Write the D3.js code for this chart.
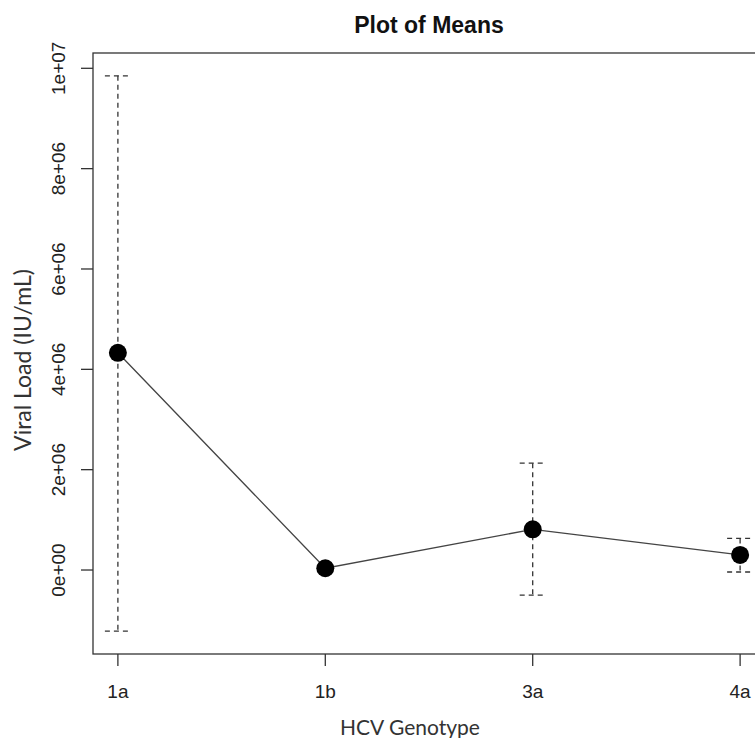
<!DOCTYPE html>
<html>
<head>
<meta charset="utf-8">
<script src="https://cdn.jsdelivr.net/npm/d3@7"></script>
<style>
  body { margin: 0; background: #fff; }
  svg { display: block; }
</style>
</head>
<body>
<script>
let w = 755;
let h = 738;

// group means and confidence limits
var genotypes = ["1a", "1b", "3a", "4a"];
var means = [4.33e6, 0.035e6, 0.81e6, 0.30e6];
var upper = [9.85e6, 0.035e6, 2.13e6, 0.63e6];
var lower = [-1.22e6, 0.035e6, -0.50e6, -0.04e6];
var yTicks = [0, 2e6, 4e6, 6e6, 8e6, 1e7];

let plotLeft = 93, plotRight = 765, plotTop = 53, plotBottom = 654;

var svg = d3.select("body").append("svg").attr("width", w).attr("height", h);

let xScale = d3.scaleLinear()
    .domain([0.88, 4.12])
    .range([plotLeft, plotRight]);

let yScale = d3.scaleLinear()
    .domain([-1.674e6, 10.305e6])
    .range([plotBottom, plotTop]);

// R style exponent labels, e.g. 2e+06
function sci(v) {
    if (v === 0) return "0e+00";
    let e = Math.floor(Math.log10(Math.abs(v)));
    let m = Math.round(v / Math.pow(10, e));
    return m + "e+" + (e < 10 ? "0" + e : e);
}

let ink = "#333";
let tickFont = "Liberation Sans, Arial, sans-serif";

// box
svg.append("rect")
    .attr("x", plotLeft).attr("y", plotTop)
    .attr("width", plotRight - plotLeft).attr("height", plotBottom - plotTop)
    .attr("fill", "none").attr("stroke", ink).attr("stroke-width", 1.3);

// y axis ticks + labels
var yAxis = svg.append("g");
yAxis.selectAll("line")
    .data(yTicks)
    .enter()
    .append("line")
    .attr("x1", plotLeft - 12).attr("x2", plotLeft)
    .attr("y1", d => yScale(d)).attr("y2", d => yScale(d))
    .attr("stroke", ink).attr("stroke-width", 1.3);
yAxis.selectAll("text")
    .data(yTicks)
    .enter()
    .append("text")
    .attr("transform", d => "translate(65," + yScale(d) + ") rotate(-90)")
    .attr("text-anchor", "middle")
    .attr("font-family", tickFont)
    .attr("font-size", 19)
    .attr("fill", "#222")
    .text(d => sci(d));

// x axis ticks + labels
var xAxis = svg.append("g");
xAxis.selectAll("line")
    .data(genotypes)
    .enter()
    .append("line")
    .attr("x1", (d, i) => xScale(i + 1)).attr("x2", (d, i) => xScale(i + 1))
    .attr("y1", plotBottom).attr("y2", plotBottom + 12)
    .attr("stroke", ink).attr("stroke-width", 1.3);
xAxis.selectAll("text")
    .data(genotypes)
    .enter()
    .append("text")
    .attr("x", (d, i) => xScale(i + 1))
    .attr("y", 698)
    .attr("text-anchor", "middle")
    .attr("font-family", tickFont)
    .attr("font-size", 19)
    .attr("fill", "#222")
    .text(d => d);

// title
svg.append("text")
    .text("Plot of Means")
    .attr("x", (plotLeft + plotRight) / 2)
    .attr("y", 33)
    .attr("text-anchor", "middle")
    .attr("font-family", tickFont)
    .attr("font-weight", "bold")
    .attr("font-size", 23)
    .attr("fill", "#111");

// axis titles
svg.append("text")
    .text("HCV Genotype")
    .attr("x", 410)
    .attr("y", 735)
    .attr("text-anchor", "middle")
    .attr("font-family", "Lato, Open Sans, sans-serif")
    .attr("font-size", 21)
    .attr("fill", "#333");

svg.append("text")
    .text("Viral Load (IU/mL)")
    .attr("transform", "translate(31,360) rotate(-90)")
    .attr("text-anchor", "middle")
    .attr("font-family", "Lato, Open Sans, sans-serif")
    .attr("font-size", 23)
    .attr("fill", "#333");

// error bars (dashed)
var bars = svg.append("g")
    .attr("stroke", ink)
    .attr("stroke-width", 1.3)
    .attr("stroke-dasharray", "5,4")
    .attr("fill", "none");
genotypes.forEach(function(g, i) {
    if (upper[i] - lower[i] < 1e5) return;
    let x = xScale(i + 1);
    bars.append("line")
        .attr("x1", x).attr("x2", x)
        .attr("y1", yScale(upper[i])).attr("y2", yScale(lower[i]));
    bars.append("line")
        .attr("x1", x - 13).attr("x2", x + 13)
        .attr("y1", yScale(upper[i])).attr("y2", yScale(upper[i]));
    bars.append("line")
        .attr("x1", x - 13).attr("x2", x + 13)
        .attr("y1", yScale(lower[i])).attr("y2", yScale(lower[i]));
});

// line through the means
var line = d3.line()
    .x((d, i) => xScale(i + 1))
    .y(d => yScale(d));
svg.append("path")
    .datum(means)
    .attr("d", line)
    .attr("fill", "none")
    .attr("stroke", "#444")
    .attr("stroke-width", 1.3);

svg.selectAll("circle.mean")
    .data(means)
    .enter()
    .append("circle")
    .attr("class", "mean")
    .attr("cx", (d, i) => xScale(i + 1))
    .attr("cy", d => yScale(d))
    .attr("r", 9)
    .attr("fill", "#000");
</script>
</body>
</html>
